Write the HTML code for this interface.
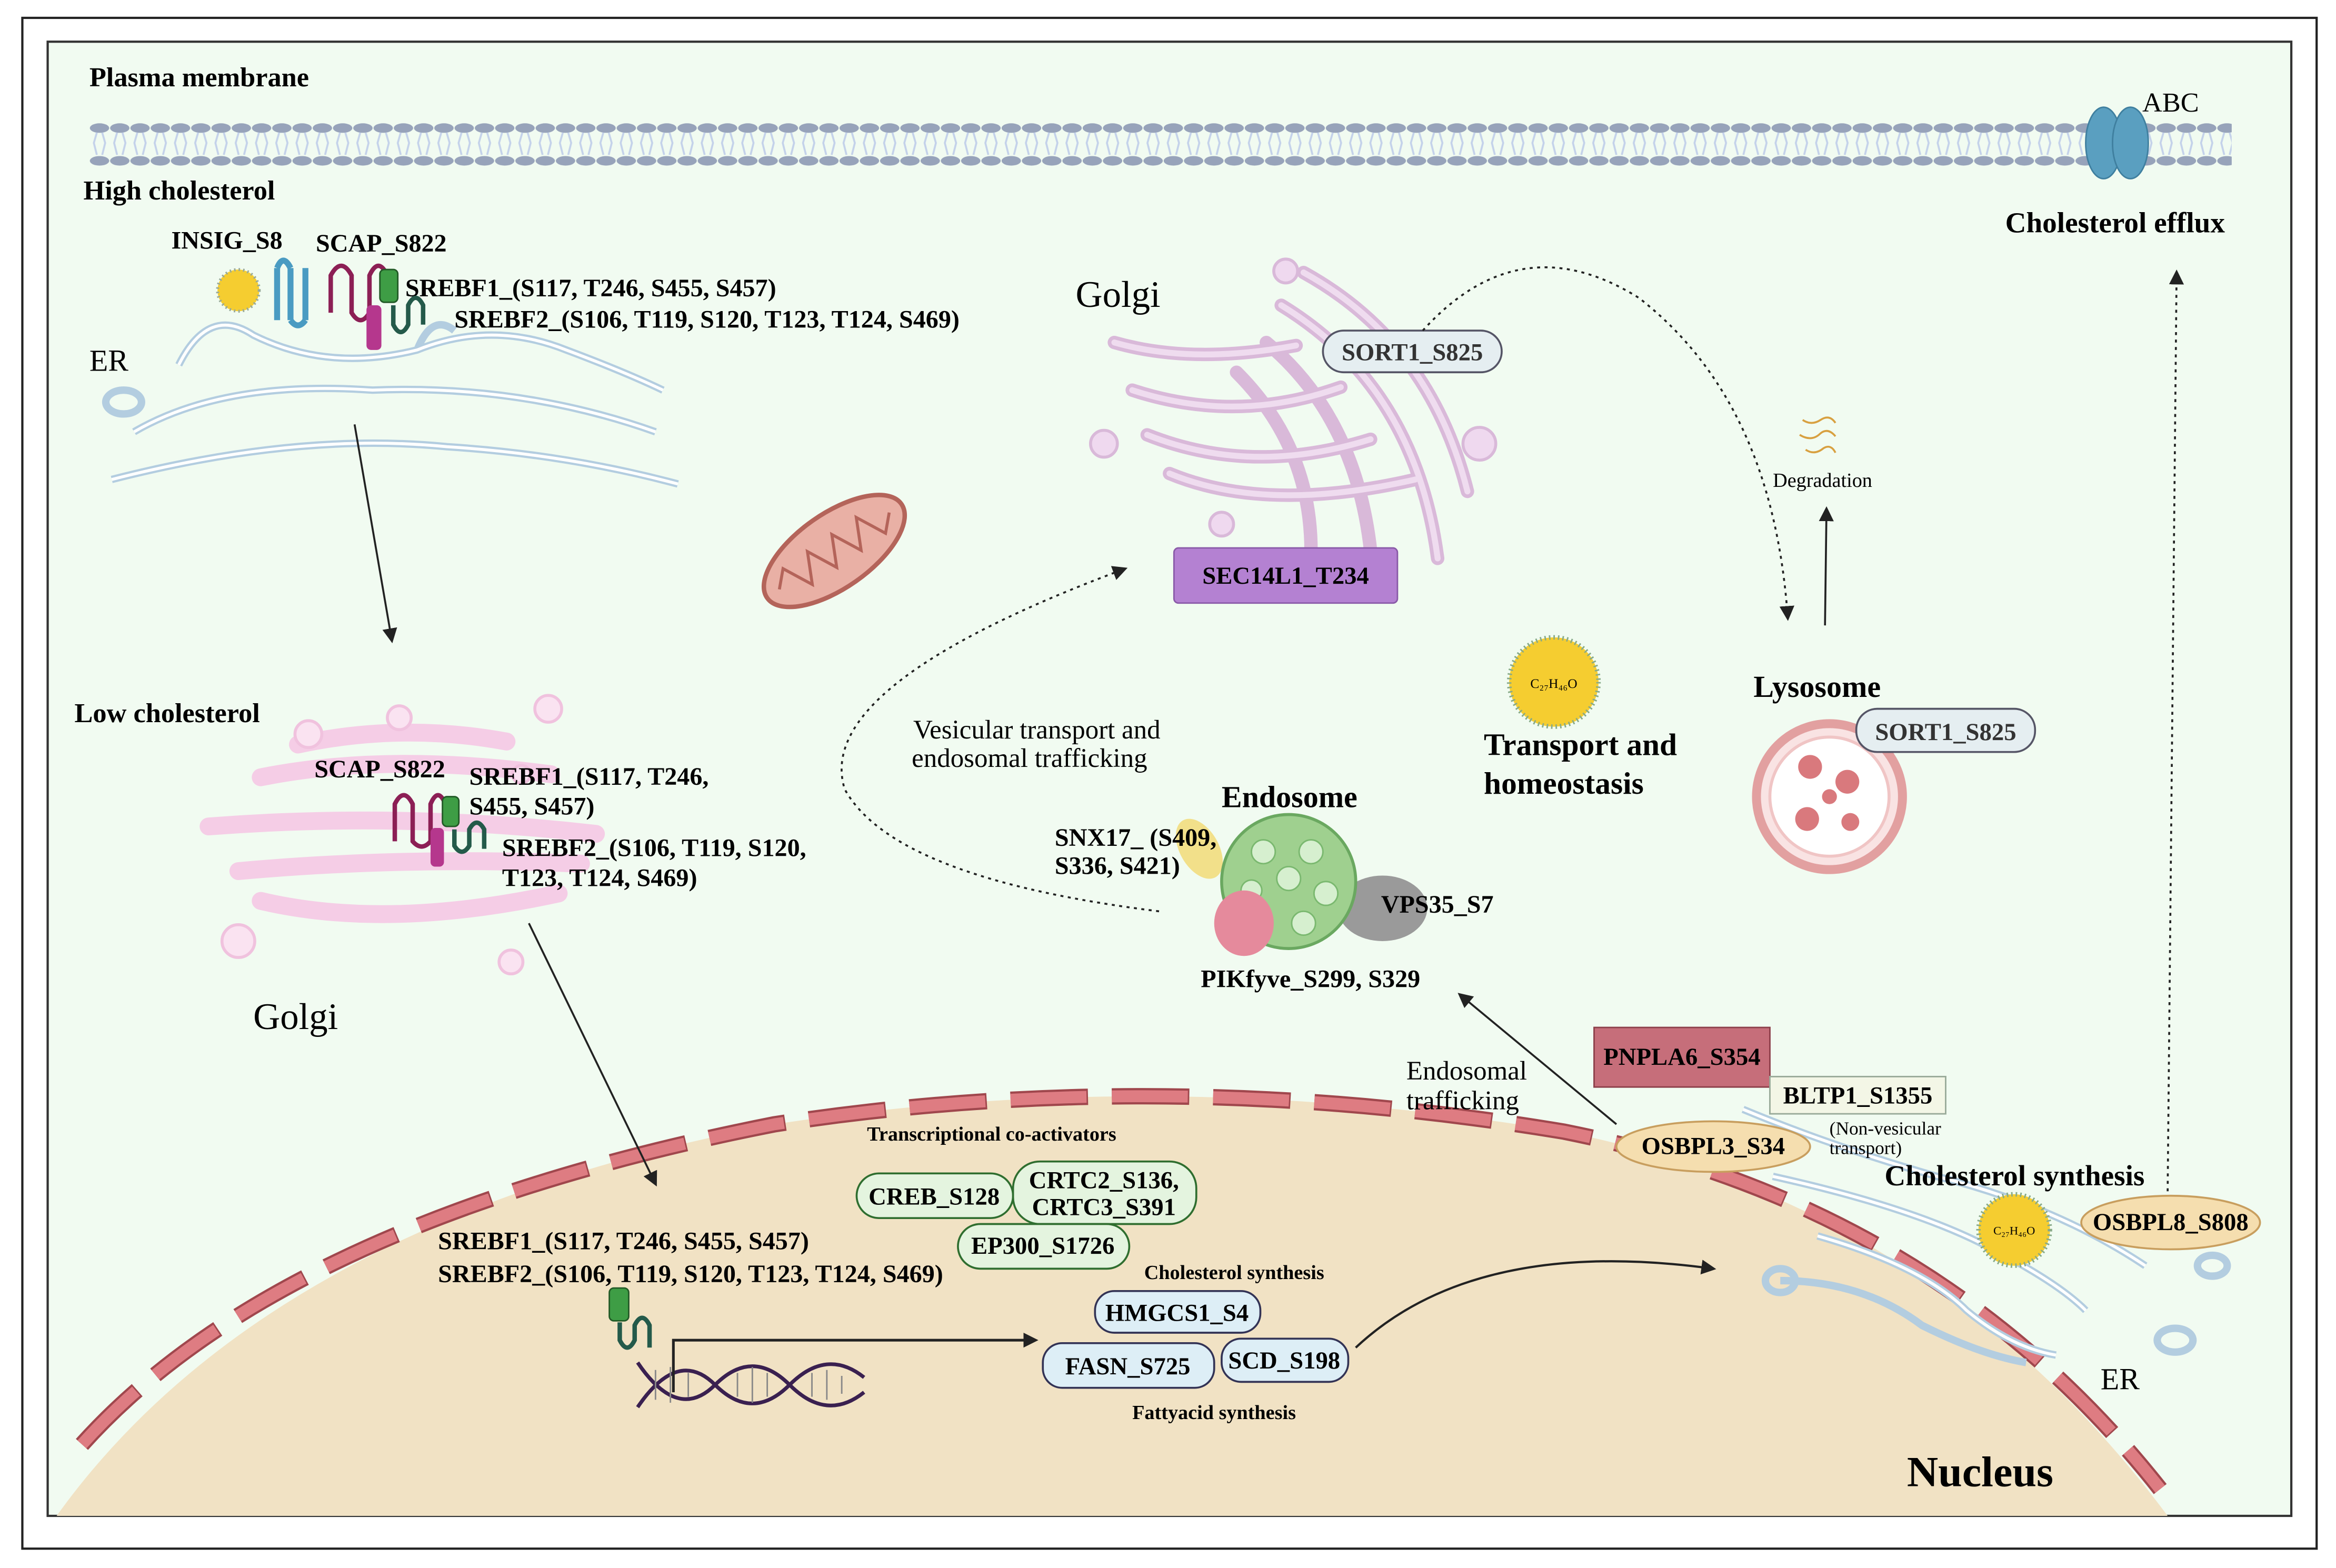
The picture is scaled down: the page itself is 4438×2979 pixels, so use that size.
<!DOCTYPE html>
<html><head><meta charset="utf-8"><style>
html,body{margin:0;padding:0;background:#fff}
svg{display:block}
text{font-family:"Liberation Serif",serif}
.b{font-weight:bold}
</style></head><body>
<svg width="4438" height="2979" viewBox="0 0 1568 1053" preserveAspectRatio="none" xmlns="http://www.w3.org/2000/svg">
<defs>
<marker id="ah" markerWidth="10" markerHeight="10" refX="8" refY="5" orient="auto" markerUnits="userSpaceOnUse"><path d="M0,0 L10,5 L0,10 z" fill="#222"/></marker>
<pattern id="mem" x="60" y="82" width="13.6" height="30" patternUnits="userSpaceOnUse">
<ellipse cx="6.8" cy="4" rx="6.5" ry="3.2" fill="#97a3ba"/>
<ellipse cx="6.8" cy="26" rx="6.5" ry="3.2" fill="#97a3ba"/>
<path d="M5,7 L3,14 L5,22 M8.6,7 L10.6,14 L8.6,22" stroke="#c4d2ea" stroke-width="1.3" fill="none"/>
</pattern>
</defs>
<rect x="0" y="0" width="1568" height="1053" fill="#fff"/>
<rect x="15" y="12" width="1540" height="1028" fill="none" stroke="#222" stroke-width="1.5"/>
<rect x="32" y="28" width="1506" height="990" fill="#f1fbf1" stroke="#333" stroke-width="1.5"/>

<!-- membrane -->
<rect x="60" y="82" width="1438" height="30" fill="url(#mem)"/>
<text x="60" y="58" class="b" font-size="18.5">Plasma membrane</text>
<g fill="#5a9fc0" stroke="#3f7f9f"><ellipse cx="1412" cy="96" rx="12" ry="24"/><ellipse cx="1430" cy="96" rx="12" ry="24"/></g>
<text x="1438" y="75" font-size="18.5">ABC</text>
<text x="1346" y="156" class="b" font-size="19.5">Cholesterol efflux</text>
<line x1="1455" y1="800" x2="1461" y2="183" stroke="#222" stroke-dasharray="2,3" stroke-width="1.3" marker-end="url(#ah)"/>

<!-- high cholesterol ER -->
<text x="56" y="134" class="b" font-size="18.5">High cholesterol</text>
<g fill="none" stroke="#b3cde0" stroke-width="5">
<path d="M120,245 Q140,205 170,225 Q220,250 280,235 Q330,215 380,235 Q420,250 445,262"/>
<path d="M90,290 Q150,255 250,262 Q350,258 440,290"/>
<path d="M75,322 Q200,290 300,300 Q380,305 455,325"/>
<ellipse cx="83" cy="270" rx="12" ry="8"/>
<path d="M280,235 Q290,210 305,222"/>
</g>
<g fill="none" stroke="#fff" stroke-width="2">
<path d="M120,245 Q140,205 170,225 Q220,250 280,235 Q330,215 380,235 Q420,250 445,262"/>
<path d="M90,290 Q150,255 250,262 Q350,258 440,290"/>
<path d="M75,322 Q200,290 300,300 Q380,305 455,325"/>
</g>
<text x="60" y="249" font-size="20.5">ER</text>
<text x="115" y="167" class="b" font-size="17">INSIG_S8</text>
<text x="212" y="169" class="b" font-size="17">SCAP_S822</text>
<text x="272" y="199" class="b" font-size="17">SREBF1_(S117, T246, S455, S457)</text>
<text x="305" y="220" class="b" font-size="17">SREBF2_(S106, T119, S120, T123, T124, S469)</text>
<circle cx="160" cy="195" r="14" fill="#f5cd30" stroke="#9a9" stroke-dasharray="1,2" stroke-width="2"/>
<g stroke="#4a9bc2" stroke-width="4" fill="none"><path d="M186,215 V180 M195,215 V180 M205,215 V180"/><path d="M186,180 Q190,170 195,180 M195,215 Q200,222 205,215"/></g>
<path d="M222,210 V185 Q229,172 236,185 V210 Q242,220 248,210 V185 Q254,172 260,185" stroke="#8c1f55" stroke-width="3" fill="none"/>
<rect x="255" y="181" width="12" height="22" rx="3" fill="#3e9d45" stroke="#225a27"/>
<rect x="246" y="205" width="10" height="30" rx="3" fill="#b5378d"/>
<path d="M264,205 V218 Q269,228 274,218 V205 Q279,195 284,205 V218" stroke="#245a4a" stroke-width="3" fill="none"/>
<line x1="238" y1="285" x2="263" y2="430" stroke="#222" stroke-width="1.3" marker-end="url(#ah)"/>

<!-- mitochondrion -->
<g transform="rotate(-35 560 370)"><ellipse cx="560" cy="370" rx="55" ry="25" fill="#e9b0a5" stroke="#b4645a" stroke-width="3"/>
<path d="M515,370 L525,360 L535,380 L545,360 L555,380 L565,360 L575,380 L585,360 L595,380 L605,370" stroke="#b4645a" stroke-width="2" fill="none"/></g>

<!-- top golgi -->
<g fill="none" stroke="#d9b9d9" stroke-width="9" stroke-linecap="round">
<path d="M748,230 Q800,245 870,232"/>
<path d="M760,262 Q830,285 900,260"/>
<path d="M770,292 Q840,320 920,295"/>
<path d="M785,318 Q850,345 950,322"/>
<path d="M830,250 Q880,300 880,370"/>
<path d="M850,230 Q910,280 920,370"/>
<path d="M860,205 Q950,260 965,375"/>
<path d="M875,183 Q960,230 985,330"/>
</g>
<g fill="none" stroke="#efdcef" stroke-width="4" stroke-linecap="round">
<path d="M748,230 Q800,245 870,232"/><path d="M760,262 Q830,285 900,260"/><path d="M770,292 Q840,320 920,295"/><path d="M785,318 Q850,345 950,322"/>
<path d="M860,205 Q950,260 965,375"/><path d="M875,183 Q960,230 985,330"/></g>
<g fill="#efd9ef" stroke="#d9b9d9" stroke-width="2"><circle cx="863" cy="182" r="8"/><circle cx="741" cy="298" r="9"/><circle cx="993" cy="298" r="11"/><circle cx="820" cy="352" r="8"/></g>
<text x="722" y="206" font-size="25">Golgi</text>
<rect x="888" y="222" width="120" height="28" rx="14" fill="#e5eef1" stroke="#556" stroke-width="1.3"/>
<text x="948" y="242" class="b" font-size="16.5" text-anchor="middle" fill="#333">SORT1_S825</text>
<rect x="788" y="368" width="150" height="37" rx="3" fill="#b481d2" stroke="#8a5aa8"/>
<text x="863" y="392" class="b" font-size="16.5" text-anchor="middle">SEC14L1_T234</text>
<path d="M955,222 Q1020,150 1100,200 Q1190,270 1200,415" fill="none" stroke="#222" stroke-dasharray="2,3" stroke-width="1.3" marker-end="url(#ah)"/>

<!-- degradation / lysosome -->
<path d="M1210,282 q6,4 12,0 q6,-4 10,2 M1208,292 q8,5 14,-1 q5,-4 10,2 M1212,302 q6,4 12,-1 q5,-3 8,3" stroke="#d8a040" stroke-width="1.3" fill="none"/>
<text x="1190" y="327" font-size="13.5">Degradation</text>
<line x1="1225" y1="420" x2="1226" y2="342" stroke="#222" stroke-width="1.3" marker-end="url(#ah)"/>
<text x="1177" y="468" class="b" font-size="20.5">Lysosome</text>
<circle cx="1228" cy="535" r="49" fill="#f9e3e3" stroke="#e2a0a0" stroke-width="6"/>
<circle cx="1228" cy="535" r="40" fill="#fff" stroke="#f0c5c5" stroke-width="2"/>
<g fill="#d9797d"><circle cx="1215" cy="515" r="8"/><circle cx="1240" cy="525" r="8"/><circle cx="1213" cy="550" r="8"/><circle cx="1242" cy="552" r="6"/><circle cx="1228" cy="535" r="5"/></g>
<rect x="1246" y="476" width="120" height="29" rx="14" fill="#e5eef1" stroke="#556" stroke-width="1.3"/>
<text x="1306" y="497" class="b" font-size="16.5" text-anchor="middle" fill="#333">SORT1_S825</text>

<circle cx="1043" cy="458" r="30" fill="#f5cd30" stroke="#8a8" stroke-dasharray="1,2" stroke-width="3"/>
<text x="1043" y="462" font-size="9" text-anchor="middle">C₂₇H₄₆O</text>
<text x="996" y="507" class="b" font-size="21">Transport and</text>
<text x="996" y="533" class="b" font-size="21">homeostasis</text>

<!-- endosome -->
<text x="613" y="496" font-size="18">Vesicular transport and</text>
<text x="612" y="515" font-size="18">endosomal trafficking</text>
<path d="M778,612 Q600,590 567,530 Q545,460 755,382" fill="none" stroke="#222" stroke-dasharray="2,3" stroke-width="1.3" marker-end="url(#ah)"/>
<text x="820" y="542" class="b" font-size="20.5">Endosome</text>
<ellipse cx="928" cy="610" rx="30" ry="22" fill="#9a9a9a"/>
<ellipse cx="805" cy="570" rx="13" ry="22" fill="#f2e08a" transform="rotate(-30 805 570)"/>
<circle cx="865" cy="592" r="45" fill="#9fd08f" stroke="#6aa860" stroke-width="2"/>
<g fill="#d6efcf" stroke="#7ab86f"><circle cx="848" cy="572" r="8"/><circle cx="880" cy="572" r="8"/><circle cx="865" cy="590" r="8"/><circle cx="890" cy="600" r="8"/><circle cx="875" cy="620" r="8"/><circle cx="840" cy="598" r="7"/></g>
<ellipse cx="835" cy="620" rx="20" ry="22" fill="#e58a9c"/>
<text x="708" y="568" class="b" font-size="17">SNX17_ (S409,</text>
<text x="708" y="587" class="b" font-size="17">S336, S421)</text>
<text x="927" y="613" class="b" font-size="17">VPS35_S7</text>
<text x="806" y="663" class="b" font-size="17">PIKfyve_S299, S329</text>

<!-- low cholesterol golgi -->
<text x="50" y="485" class="b" font-size="18.5">Low cholesterol</text>
<g fill="none" stroke="#f5cde6" stroke-width="12" stroke-linecap="round">
<path d="M200,500 Q270,485 340,498"/>
<path d="M175,522 Q260,505 370,520"/>
<path d="M140,555 Q270,545 400,560"/>
<path d="M160,585 Q270,575 390,580"/>
<path d="M175,605 Q260,625 375,600"/>
</g>
<g fill="#fae3f1" stroke="#f0c2de" stroke-width="2"><circle cx="207" cy="493" r="9"/><circle cx="268" cy="482" r="8"/><circle cx="368" cy="476" r="9"/><circle cx="160" cy="632" r="11"/><circle cx="343" cy="646" r="8"/><circle cx="350" cy="520" r="6"/></g>
<text x="170" y="691" font-size="25">Golgi</text>
<text x="211" y="522" class="b" font-size="17">SCAP_S822</text>
<text x="315" y="527" class="b" font-size="17">SREBF1_(S117, T246,</text>
<text x="315" y="547" class="b" font-size="17">S455, S457)</text>
<text x="337" y="575" class="b" font-size="17">SREBF2_(S106, T119, S120,</text>
<text x="337" y="595" class="b" font-size="17">T123, T124, S469)</text>
<path d="M265,565 V540 Q271,528 277,540 V565 Q283,572 289,565 V540 Q294,528 299,540" stroke="#8c1f55" stroke-width="3" fill="none"/>
<rect x="297" y="535" width="11" height="20" rx="3" fill="#3e9d45" stroke="#225a27"/>
<rect x="289" y="556" width="9" height="26" rx="3" fill="#b5378d"/>
<path d="M305,557 V568 Q310,576 315,568 V557 Q320,548 325,557 V570" stroke="#245a4a" stroke-width="3" fill="none"/>

<!-- nucleus -->
<path d="M38,1018 Q180,820 520,755 Q780,715 1050,760 Q1300,810 1455,1018 Z" fill="#f1e2c4"/>
<path d="M55,970 Q190,820 520,755 Q780,715 1050,760 Q1300,810 1450,1000" fill="none" stroke="#a0474d" stroke-width="11" stroke-dasharray="52,16"/>
<path d="M55,970 Q190,820 520,755 Q780,715 1050,760 Q1300,810 1450,1000" fill="none" stroke="#de7c82" stroke-width="8" stroke-dasharray="51,17"/>
<text x="1280" y="998" class="b" font-size="29">Nucleus</text>
<line x1="355" y1="620" x2="440" y2="795" stroke="#222" stroke-width="1.3" marker-end="url(#ah)"/>

<text x="582" y="766" class="b" font-size="13.5">Transcriptional co-activators</text>
<g fill="#e4f4df" stroke="#2f6e2f" stroke-width="1.3">
<rect x="575" y="788" width="105" height="30" rx="15"/>
<rect x="680" y="780" width="123" height="42" rx="18"/>
<rect x="643" y="822" width="115" height="30" rx="15"/>
</g>
<text x="627" y="809" class="b" font-size="16.5" text-anchor="middle">CREB_S128</text>
<text x="741" y="798" class="b" font-size="16.5" text-anchor="middle">CRTC2_S136,</text>
<text x="741" y="816" class="b" font-size="16.5" text-anchor="middle">CRTC3_S391</text>
<text x="700" y="842" class="b" font-size="16.5" text-anchor="middle">EP300_S1726</text>

<text x="294" y="839" class="b" font-size="17">SREBF1_(S117, T246, S455, S457)</text>
<text x="294" y="861" class="b" font-size="17">SREBF2_(S106, T119, S120, T123, T124, S469)</text>
<rect x="409" y="865" width="13" height="22" rx="3" fill="#3e9d45" stroke="#225a27"/>
<path d="M416,888 V900 Q421,910 426,900 V890 Q431,880 436,890 V905" stroke="#245a4a" stroke-width="3" fill="none"/>
<path d="M428,945 Q455,905 480,930 T530,930 T580,925 M428,915 Q455,955 480,930 T530,930 T580,935" stroke="#3a2050" stroke-width="2.5" fill="none"/>
<g stroke="#888" stroke-width="1"><path d="M440,920 V940 M450,918 V942 M462,922 V938 M495,922 V938 M505,918 V942 M515,922 V938 M545,922 V938 M555,920 V940 M565,924 V936"/></g>
<path d="M452,935 V900 H695" fill="none" stroke="#222" stroke-width="1.8" marker-end="url(#ah)"/>

<text x="768" y="859" class="b" font-size="13.5">Cholesterol synthesis</text>
<g fill="#ddeef6" stroke="#335" stroke-width="1.3">
<rect x="735" y="867" width="111" height="28" rx="13"/>
<rect x="700" y="902" width="115" height="30" rx="13"/>
<rect x="820" y="899" width="85" height="29" rx="13"/>
</g>
<text x="790" y="887" class="b" font-size="16.5" text-anchor="middle">HMGCS1_S4</text>
<text x="757" y="923" class="b" font-size="16.5" text-anchor="middle">FASN_S725</text>
<text x="862" y="919" class="b" font-size="16.5" text-anchor="middle">SCD_S198</text>
<text x="760" y="953" class="b" font-size="13.5">Fattyacid synthesis</text>
<path d="M910,905 Q990,830 1150,852" fill="none" stroke="#222" stroke-width="1.5" marker-end="url(#ah)"/>

<!-- right ER -->
<g fill="none" stroke="#b3cde0" stroke-width="5">
<path d="M1170,745 Q1230,770 1300,790 Q1380,810 1440,850"/>
<path d="M1190,790 Q1280,810 1330,835 Q1380,860 1400,880"/>
<path d="M1220,830 Q1290,850 1320,880 Q1350,905 1380,910"/>
<path d="M1195,860 Q1250,860 1290,890 Q1330,910 1360,915"/>
<ellipse cx="1195" cy="860" rx="10" ry="8"/><ellipse cx="1460" cy="900" rx="12" ry="8"/><ellipse cx="1485" cy="850" rx="10" ry="7"/>
</g>
<g fill="none" stroke="#fff" stroke-width="2">
<path d="M1170,745 Q1230,770 1300,790 Q1380,810 1440,850"/><path d="M1190,790 Q1280,810 1330,835 Q1380,860 1400,880"/><path d="M1220,830 Q1290,850 1320,880 Q1350,905 1380,910"/></g>
<text x="1410" y="933" font-size="20.5">ER</text>

<text x="944" y="725" font-size="18">Endosomal</text>
<text x="944" y="745" font-size="18">trafficking</text>
<line x1="1085" y1="755" x2="980" y2="668" stroke="#222" stroke-width="1.3" marker-end="url(#ah)"/>
<rect x="1070" y="690" width="118" height="40" fill="#c66e7a" stroke="#8d3f4a"/>
<text x="1129" y="715" class="b" font-size="16.5" text-anchor="middle">PNPLA6_S354</text>
<rect x="1188" y="723" width="118" height="25" fill="#f3f6e6" stroke="#9a9"/>
<text x="1247" y="741" class="b" font-size="16.5" text-anchor="middle">BLTP1_S1355</text>
<text x="1228" y="762" font-size="12.5">(Non-vesicular</text>
<text x="1228" y="775" font-size="12.5">transport)</text>
<ellipse cx="1150" cy="770" rx="65" ry="17" fill="#f5deaf" stroke="#c89e5e" stroke-width="1.3"/>
<text x="1150" y="775" class="b" font-size="16.5" text-anchor="middle">OSBPL3_S34</text>
<text x="1265" y="796" class="b" font-size="19.5">Cholesterol synthesis</text>
<circle cx="1352" cy="826" r="24" fill="#f5cd30" stroke="#8a8" stroke-dasharray="1,2" stroke-width="3"/>
<text x="1352" y="829" font-size="8" text-anchor="middle">C₂₇H₄₆O</text>
<ellipse cx="1457" cy="821" rx="60" ry="18" fill="#f5deaf" stroke="#c89e5e" stroke-width="1.3"/>
<text x="1457" y="826" class="b" font-size="16.5" text-anchor="middle">OSBPL8_S808</text>
</svg>
</body></html>
